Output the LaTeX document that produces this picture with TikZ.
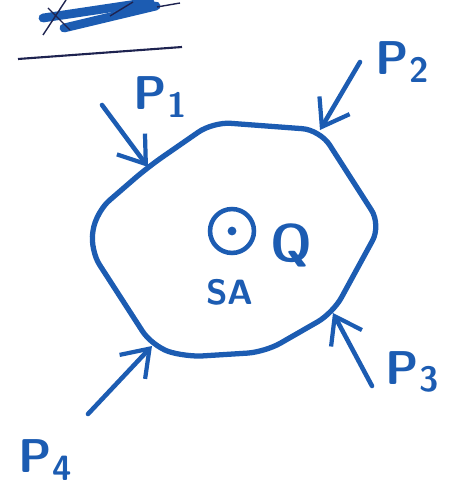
\documentclass[tikz,border=0pt]{standalone}
\usepackage{tikz}
\usetikzlibrary{arrows.meta,positioning,calc}
\definecolor{ink}{RGB}{28,92,178}
\definecolor{navy}{RGB}{30,35,80}
\newcommand{\idx}[1]{\raisebox{-0.35ex}{\fontsize{20}{20}\selectfont #1}}
\tikzset{
  rim/.style={draw=ink,line width=3pt,line join=round,rounded corners=10pt},
  force/.style={draw=ink,line width=2.6pt,line cap=round,-{Straight Barb[length=5mm,width=7mm,line width=2.4pt]}},
  lbl/.style={text=ink,font=\sffamily\bfseries\fontsize{27}{30}\selectfont,inner sep=1pt},
}
\begin{document}
\begin{tikzpicture}[x=0.02cm,y=-0.02cm]
  \useasboundingbox (0,0) rectangle (449,500);
  % crossed out heading
  \draw[ink,line width=5pt,line cap=round] (43,18) -- (150,2);
  \draw[ink,line width=5pt,line cap=round] (64,28) -- (156,6);
  \draw[navy,line width=0.8pt] (43,35) -- (66,0) (48,8) -- (70,30) (110,16) -- (133,2) (157,7) -- (180,3);
  \draw[navy,line width=1.2pt] (18,59) -- (182,47);
  % the body
  \coordinate (v1) at (148,167);
  \coordinate (v2) at (213,122);
  \coordinate (v3) at (320,130);
  \coordinate (v4) at (381,225);
  \coordinate (v5) at (333,313);
  \coordinate (v6) at (265,352);
  \coordinate (v7) at (152,346);
  \coordinate (v8) at (90,250);
  \draw[rim] (v1) -- (v2) -- (v3) -- (v4) -- (v5) -- (v6) -- (185,357) -- (v7) -- (v8) -- (96,212) -- cycle;
  % forces
  \coordinate (t1) at (102,105);
  \coordinate (t2) at (360,62);
  \coordinate (t3) at (372,386);
  \coordinate (t4) at (88,414);
  \draw[force] (t1) -- (v1);
  \draw[force] (t2) -- (v3);
  \draw[force] (t3) -- (v5);
  \draw[force] (t4) -- (v7);
  \node[lbl] (p1) at (160,97) {P\idx{1}};
  \node[lbl] (p2) at (402,62) {P\idx{2}};
  \node[lbl] (p3) at (412,372) {P\idx{3}};
  \node[lbl] (p4) at (45,460) {P\idx{4}};
  % axis and labels
  \node[circle,draw=ink,line width=2.6pt,minimum size=25pt,inner sep=0pt] (sa) at (232,231) {};
  \fill[ink] (sa.center) circle (2.5pt);
  \node[lbl,font=\sffamily\bfseries\fontsize{30}{32}\selectfont] (q) at (291,245) {Q};
  \node[lbl,font=\sffamily\bfseries\fontsize{20}{22}\selectfont] (salbl) at (230,292) {SA};
\end{tikzpicture}
\end{document}
